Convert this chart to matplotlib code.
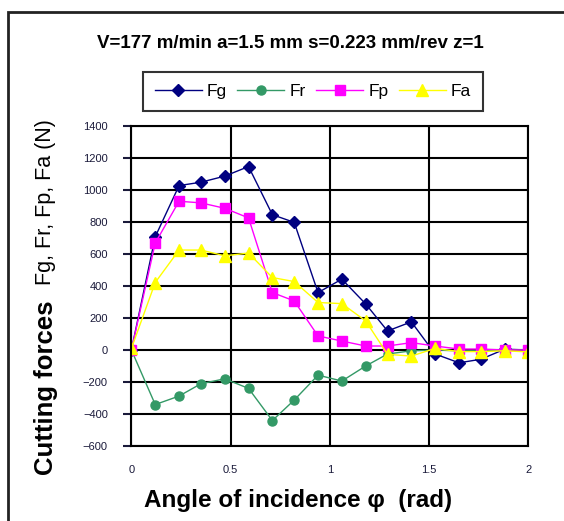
import matplotlib.pyplot as plt
from matplotlib.patches import Rectangle

plt.rcParams['font.family'] = ['Liberation Sans', 'DejaVu Sans']

# angle of incidence (rad)
phi = [0, 0.12, 0.24, 0.35, 0.47, 0.59, 0.71, 0.82, 0.94,
       1.06, 1.18, 1.29, 1.41, 1.53, 1.65, 1.76, 1.88, 2.0]

# cutting force components (N)
Fg = [0, 708, 1028, 1049, 1087, 1147, 846, 798, 359,
      443, 288, 119, 176, -25, -80, -58, 5, 0]
Fr = [0, -341, -288, -211, -180, -240, -441, -313, -157,
      -194, -100, -25, -5, 0, -5, -5, 0, 0]
Fp = [0, 669, 930, 920, 886, 826, 359, 307, 88,
      56, 25, 25, 46, 25, 6, 6, 0, 0]
Fa = [10, 422, 625, 625, 589, 606, 453, 428, 297,
      290, 182, -27, -38, 10, -10, -10, -5, -12]

fig = plt.figure(figsize=(5.64, 5.21), dpi=100)
ax = fig.add_axes([0.233, 0.144, 0.704, 0.614])

ax.plot(phi, Fg, '-', color='#000080', lw=1, marker='D', ms=6.5, label='Fg')
ax.plot(phi, Fr, '-', color='#339966', lw=1, marker='o', ms=6.5, label='Fr')
ax.plot(phi, Fp, '-', color='#FF00FF', lw=1, marker='s', ms=7.5, label='Fp')
ax.plot(phi, Fa, '-', color='#FFFF00', lw=1, marker='^', ms=9, label='Fa')

ax.set_xlim(0, 2)
ax.set_ylim(-600, 1400)
ax.set_xticks([0, 0.5, 1, 1.5, 2])
ax.set_xticklabels(['0', '0.5', '1', '1.5', '2'])
ax.set_yticks(range(-600, 1401, 200))
ax.grid(True, color='black', lw=1.5)
ax.set_axisbelow(True)
for s in ax.spines.values():
    s.set_linewidth(1.5)
ax.tick_params(axis='both', width=1.5, labelsize=8, colors='#1a1a3a')
ax.tick_params(axis='y', length=6, pad=11)
ax.tick_params(axis='x', length=0, pad=14)

leg = ax.legend(loc='lower center', bbox_to_anchor=(0.457, 1.047), ncol=4,
                fontsize=12.5, frameon=True, fancybox=False, handlelength=2.7,
                columnspacing=0.6, handletextpad=0.3, borderpad=0.7,
                borderaxespad=0)
leg.get_frame().set_edgecolor('black')
leg.get_frame().set_linewidth(1.5)

fig.text(0.514, 0.916, 'V=177 m/min a=1.5 mm s=0.223 mm/rev z=1',
         ha='center', va='center', fontsize=13.5, fontweight='bold')

fig.text(0.528, 0.04, 'Angle of incidence φ  (rad)', ha='center',
         va='center', fontsize=17.5, fontweight='bold')

fig.text(0.082, 0.088, 'Cutting forces', rotation=90, ha='center', va='bottom',
         fontsize=18.5, fontweight='bold')
fig.text(0.080, 0.453, 'Fg, Fr, Fp, Fa (N)', rotation=90, ha='center',
         va='bottom', fontsize=15.5)

# outer frame
fig.patches.append(Rectangle((8 / 564, -0.1), 1.0, 1.1 - 12 / 521,
                             transform=fig.transFigure, fill=False,
                             edgecolor='#222222', lw=2))

fig.savefig('out.png', dpi=100)
